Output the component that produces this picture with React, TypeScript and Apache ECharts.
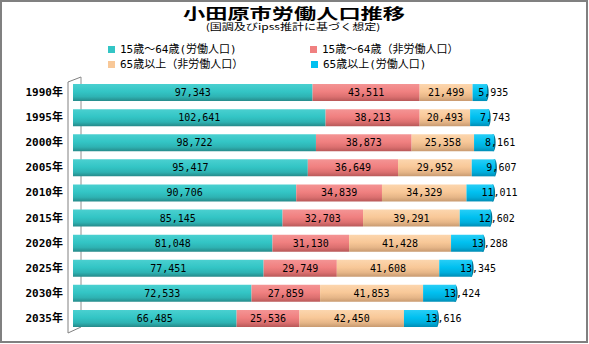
import React, { useEffect, useRef } from "react";
import * as echarts from "echarts";

const years = ["1990年", "1995年", "2000年", "2005年", "2010年", "2015年", "2020年", "2025年", "2030年", "2035年"];
const working1564 = [97343, 102641, 98722, 95417, 90706, 85145, 81048, 77451, 72533, 66485];
const nonWorking1564 = [43511, 38213, 38873, 36649, 34839, 32703, 31130, 29749, 27859, 25536];
const nonWorking65 = [21499, 20493, 25358, 29952, 34329, 39291, 41428, 41608, 41853, 42450];
const working65 = [5935, 7743, 8161, 9607, 11011, 12602, 13288, 13345, 13424, 13616];

const seriesNames = [
  "15歳～64歳(労働人口)",
  "15歳～64歳（非労働人口）",
  "65歳以上（非労働人口）",
  "65歳以上(労働人口)",
];

const grad = (stops: string[]) => ({
  type: "linear",
  x: 0,
  y: 0,
  x2: 0,
  y2: 1,
  colorStops: [
    { offset: 0, color: stops[0] },
    { offset: 0.45, color: stops[1] },
    { offset: 0.75, color: stops[2] },
    { offset: 1, color: stops[3] },
  ],
});

const palettes = [
  ["#4AD0D0", "#33C5C5", "#2EB3B3", "#268A8A"],
  ["#F49494", "#F08080", "#DC7070", "#B85858"],
  ["#FCD6AE", "#F8C898", "#E6B688", "#C89A70"],
  ["#28CEF6", "#00C0F0", "#00AEDC", "#008DB5"],
];
const legendColors = ["#33C5C5", "#F08080", "#F8C898", "#00C0F0"];

const fmt = (v: number) => v.toLocaleString("en-US");

export default function App() {
  const ref = useRef<HTMLDivElement>(null);
  useEffect(() => {
    if (!ref.current) return;
    const chart = echarts.init(ref.current, undefined, { renderer: "svg" });
    const dataSets = [working1564, nonWorking1564, nonWorking65, working65];
    const totals = years.map((_, i) => dataSets.reduce((s, d) => s + d[i], 0));
    const labelFont = { fontFamily: "DejaVu Sans Mono", fontSize: 10, color: "#000" };

    const barSeries = dataSets.map((d, k) => ({
      type: "bar",
      name: seriesNames[k],
      stack: "total",
      barWidth: 17,
      data: d,
      itemStyle: { color: grad(palettes[k]) },
      label:
        k === 3
          ? {
              show: true,
              position: ["100%", "50%"],
              align: "center",
              verticalAlign: "middle",
              offset: [6, 0],
              formatter: (p: any) => fmt(p.value),
              ...labelFont,
            }
          : {
              show: true,
              position: "inside",
              formatter: (p: any) => fmt(p.value),
              ...labelFont,
            },
    }));

    const legendPos = [
      { left: 108, top: 44 },
      { left: 310, top: 44 },
      { left: 108, top: 59 },
      { left: 311, top: 59 },
    ];

    chart.setOption({
      animation: false,
      backgroundColor: "#fff",
      legend: seriesNames.map((n, k) => ({
        data: [n],
        ...legendPos[k],
        padding: 0,
        icon: "rect",
        itemWidth: 7,
        itemHeight: 7,
        itemGap: 0,
        itemStyle: { color: legendColors[k] },
        textStyle: { fontFamily: "DejaVu Sans Mono, Noto Sans CJK JP", fontSize: 11, color: "#000" },
        selectedMode: false,
      })),
      grid: { left: 73, top: 80, width: 443, height: 251 },
      xAxis: {
        type: "value",
        min: 0,
        max: 180000,
        show: false,
      },
      yAxis: {
        type: "category",
        inverse: true,
        data: years,
        axisLine: { show: false },
        axisTick: { show: false },
        axisLabel: {
          margin: 10,
          fontFamily: "DejaVu Sans Mono, Noto Sans CJK JP",
          fontSize: 11,
          fontWeight: "bold",
          color: "#000",
          padding: [4, 0, 0, 0],
        },
      },
      series: [
        ...barSeries,
        {
          type: "custom",
          silent: true,
          z: 2,
          data: totals.map((t, i) => [t, i]),
          encode: { x: 0, y: 1 },
          renderItem: (params: any, api: any) => {
            const p = api.coord([api.value(0), api.value(1)]);
            return {
              type: "ellipse",
              z2: 0,
              shape: { cx: p[0] - 1, cy: p[1], rx: 2.5, ry: 8.5 },
              style: { fill: "#00718F" },
            };
          },
        },
      ],
      graphic: [
        {
          type: "rect",
          shape: { x: 1, y: 1, width: 586, height: 341 },
          style: { fill: "none", stroke: "#808080", lineWidth: 2 },
          z: -10,
        },
        {
          type: "polyline",
          shape: { points: [[81, 77], [68, 82], [68, 333], [81, 327]] },
          style: { stroke: "#808080", lineWidth: 1, fill: "none" },
          z: -5,
        },
        {
          type: "line",
          shape: { x1: 81, y1: 77, x2: 81, y2: 327 },
          style: { stroke: "#909090", lineWidth: 1 },
          z: -5,
        },
        {
          type: "text",
          x: 294,
          y: 12,
          scaleX: 1.48,
          style: {
            text: "小田原市労働人口推移",
            fontFamily: "Noto Sans CJK JP",
            fontSize: 15,
            fontWeight: "bold",
            fill: "#000",
            textAlign: "center",
            textVerticalAlign: "middle",
          },
        },
        {
          type: "text",
          x: 293,
          y: 26,
          scaleX: 1.34,
          style: {
            text: "(国調及びipss推計に基づく想定)",
            fontFamily: "Noto Sans CJK JP",
            fontSize: 9,
            fill: "#000",
            textAlign: "center",
            textVerticalAlign: "middle",
          },
        },
      ],
    });
    return () => chart.dispose();
  }, []);
  return (
    <div
      ref={ref}
      style={{ position: "fixed", left: 0, top: 0, width: 589, height: 344, background: "#fff" }}
    />
  );
}
